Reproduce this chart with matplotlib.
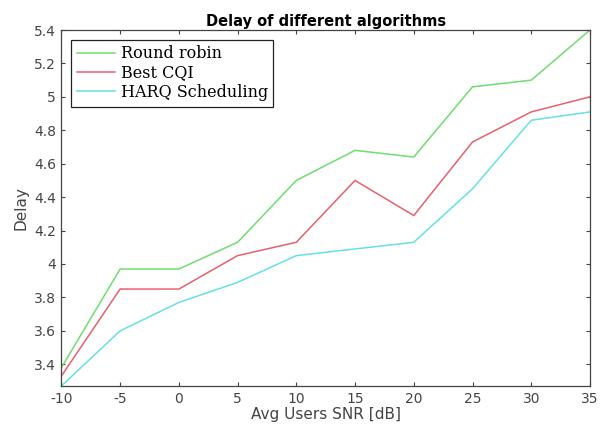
import matplotlib
matplotlib.use("Agg")
import matplotlib.pyplot as plt

snr = [-10, -5, 0, 5, 10, 15, 20, 25, 30, 35]
round_robin = [3.38, 3.97, 3.97, 4.13, 4.50, 4.68, 4.64, 5.06, 5.10, 5.40]
best_cqi = [3.33, 3.85, 3.85, 4.05, 4.13, 4.50, 4.29, 4.73, 4.91, 5.00]
harq = [3.27, 3.60, 3.77, 3.89, 4.05, 4.09, 4.13, 4.45, 4.86, 4.91]
labels = ["Round robin", "Best CQI", "HARQ Scheduling"]
yticks = [3.4, 3.6, 3.8, 4.0, 4.2, 4.4, 4.6, 4.8, 5.0, 5.2, 5.4]
ytick_labels = ["3.4", "3.6", "3.8", "4", "4.2", "4.4", "4.6", "4.8", "5", "5.2", "5.4"]
xtick_labels = ["-10", "-5", "0", "5", "10", "15", "20", "25", "30", "35"]

plt.rcParams['font.family'] = ['DejaVu Sans']
plt.rcParams['axes.unicode_minus'] = False
fig = plt.figure(figsize=(6.02, 4.32), dpi=100)
ax = fig.add_axes([0.102, 0.1065, 0.878, 0.824])

ax.plot(snr, round_robin, color='#70dd70', lw=1.1, label=labels[0])
ax.plot(snr, best_cqi, color='#e8606e', lw=1.1, label=labels[1])
ax.plot(snr, harq, color='#66e0e6', lw=1.1, label=labels[2])

ax.set_xlim(-10, 35)
ax.set_ylim(3.27, 5.4)
ax.set_xticks(snr)
ax.set_xticklabels(xtick_labels)
ax.set_yticks(yticks)
ax.set_yticklabels(ytick_labels)
ax.tick_params(direction='in', top=True, right=True, length=3, labelsize=10,
               colors='#444444', labelcolor='#444444', pad=4)
for s in ax.spines.values():
    s.set_color('#444444')
    s.set_linewidth(0.9)

ax.set_xlabel("Avg Users SNR [dB]", fontsize=11, color='#444444', labelpad=1)
ax.set_ylabel("Delay", fontsize=11, color='#444444', labelpad=4)
ax.set_title("Delay of different algorithms", fontsize=10.5, fontweight='bold', pad=3)

leg = ax.legend(loc='upper left', prop={'family': 'DejaVu Serif', 'size': 11.5},
                fancybox=False, edgecolor='#222222', framealpha=1,
                borderpad=0.35, labelspacing=0.15, handlelength=2.4,
                handletextpad=0.35, borderaxespad=0.6)
leg.get_frame().set_linewidth(0.9)

fig.savefig("out.png", dpi=100)
